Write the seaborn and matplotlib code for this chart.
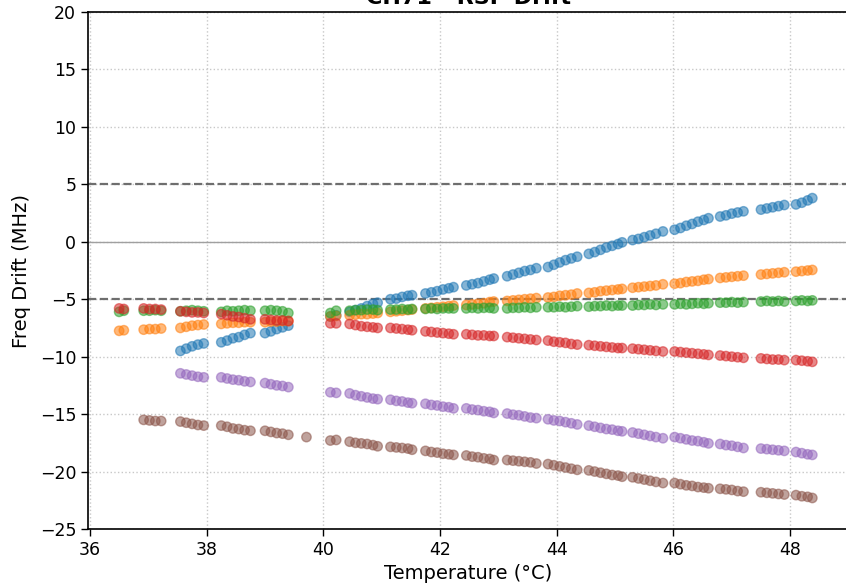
import numpy as np
import pandas as pd
import matplotlib
matplotlib.use("Agg")
import matplotlib.pyplot as plt
import seaborn as sns

nan = np.nan

temperature = [
    36.50, 36.58,
    36.92, 37.02, 37.12, 37.22,
    37.55, 37.65, 37.75, 37.85, 37.95,
    38.25, 38.35, 38.45, 38.55, 38.65, 38.75,
    39.00, 39.10, 39.20, 39.30, 39.40,
    39.71,
    40.12, 40.22,
    40.45, 40.55, 40.65, 40.75, 40.85, 40.93,
    41.15, 41.25, 41.35, 41.45, 41.52,
    41.75, 41.85, 41.95, 42.05, 42.15, 42.23,
    42.45, 42.55, 42.65, 42.75, 42.85, 42.92,
    43.15, 43.25, 43.35, 43.45, 43.55, 43.65,
    43.85, 43.95, 44.05, 44.15, 44.25, 44.35,
    44.55, 44.65, 44.75, 44.85, 44.95, 45.05, 45.12,
    45.30, 45.40, 45.50, 45.60, 45.70, 45.82,
    46.02, 46.12, 46.22, 46.32, 46.42, 46.52, 46.60,
    46.80, 46.90, 47.00, 47.10, 47.20,
    47.50, 47.60, 47.70, 47.80, 47.90,
    48.10, 48.20, 48.30, 48.38,
]

ch_a = [
    nan, nan,
    nan, nan, nan, nan,
    -9.5, -9.3, -9.1, -8.95, -8.85,
    -8.75, -8.6, -8.4, -8.3, -8.1, -7.95,
    -7.95, -7.8, -7.6, -7.45, -7.3,
    nan,
    -6.5, -6.4,
    -6.1, -5.95, -5.8, -5.6, -5.4, -5.3,
    -5.0, -4.95, -4.8, -4.7, -4.65,
    -4.5, -4.4, -4.3, -4.15, -4.05, -3.95,
    -3.8, -3.7, -3.6, -3.45, -3.3, -3.2,
    -3.0, -2.85, -2.7, -2.55, -2.45, -2.3,
    -2.2, -2.0, -1.8, -1.6, -1.45, -1.3,
    -1.05, -0.9, -0.7, -0.5, -0.35, -0.2, -0.05,
    0.15, 0.25, 0.4, 0.55, 0.7, 0.9,
    1.05, 1.2, 1.4, 1.55, 1.75, 1.9, 2.05,
    2.2, 2.3, 2.45, 2.55, 2.65,
    2.8, 2.9, 3.0, 3.1, 3.2,
    3.25, 3.4, 3.6, 3.8,
]

ch_b = [
    -7.75, -7.7,
    -7.65, -7.6, -7.6, -7.55,
    -7.5, -7.4, -7.3, -7.25, -7.2,
    -7.15, -7.1, -7.05, -7.05, -7.0, -7.0,
    -7.0, -6.95, -6.95, -6.9, -6.9,
    nan,
    -6.5, -6.45,
    -6.4, -6.35, -6.3, -6.3, -6.25, -6.2,
    -6.1, -6.05, -6.0, -5.95, -5.9,
    -5.8, -5.75, -5.7, -5.65, -5.6, -5.55,
    -5.5, -5.45, -5.4, -5.35, -5.25, -5.2,
    -5.15, -5.1, -5.05, -5.0, -4.95, -4.9,
    -4.85, -4.8, -4.7, -4.65, -4.6, -4.5,
    -4.45, -4.4, -4.3, -4.25, -4.2, -4.15, -4.1,
    -4.0, -3.95, -3.9, -3.85, -3.8, -3.7,
    -3.65, -3.6, -3.5, -3.45, -3.4, -3.3, -3.25,
    -3.15, -3.1, -3.05, -3.0, -2.95,
    -2.85, -2.8, -2.75, -2.7, -2.65,
    -2.6, -2.55, -2.5, -2.45,
]

ch_c = [
    -6.1, -6.0,
    -6.0, -6.0, -5.95, -6.0,
    -6.05, -6.0, -5.95, -6.0, -6.05,
    -6.1, -6.0, -6.05, -6.0, -5.95, -6.0,
    -6.0, -5.95, -6.0, -6.05, -6.2,
    nan,
    -6.2, -6.0,
    -6.0, -5.95, -5.95, -5.9, -5.9, -5.95,
    -5.9, -5.9, -5.85, -5.9, -5.85,
    -5.85, -5.8, -5.85, -5.8, -5.8, -5.8,
    -5.8, -5.75, -5.8, -5.75, -5.75, -5.8,
    -5.8, -5.75, -5.75, -5.7, -5.75, -5.7,
    -5.7, -5.7, -5.65, -5.7, -5.65, -5.6,
    -5.65, -5.6, -5.6, -5.55, -5.6, -5.55, -5.55,
    -5.55, -5.5, -5.5, -5.45, -5.5, -5.45,
    -5.45, -5.4, -5.45, -5.4, -5.35, -5.4, -5.35,
    -5.3, -5.3, -5.25, -5.3, -5.25,
    -5.2, -5.15, -5.2, -5.15, -5.2,
    -5.15, -5.1, -5.15, -5.1,
]

ch_d = [
    -5.8, -5.85,
    -5.8, -5.85, -5.85, -5.9,
    -6.05, -6.1, -6.15, -6.15, -6.2,
    -6.3, -6.4, -6.5, -6.55, -6.65, -6.75,
    -6.75, -6.8, -6.85, -6.85, -6.9,
    nan,
    -7.1, -7.1,
    -7.15, -7.25, -7.35, -7.4, -7.45, -7.5,
    -7.5, -7.55, -7.6, -7.65, -7.7,
    -7.8, -7.85, -7.9, -7.95, -8.0, -8.05,
    -8.05, -8.1, -8.15, -8.15, -8.2, -8.2,
    -8.3, -8.35, -8.4, -8.45, -8.5, -8.55,
    -8.6, -8.7, -8.75, -8.8, -8.9, -8.95,
    -9.0, -9.05, -9.1, -9.15, -9.2, -9.25, -9.25,
    -9.3, -9.35, -9.4, -9.45, -9.5, -9.55,
    -9.55, -9.6, -9.65, -9.7, -9.75, -9.8, -9.85,
    -9.9, -9.95, -10.0, -10.05, -10.1,
    -10.15, -10.2, -10.25, -10.25, -10.3,
    -10.3, -10.35, -10.4, -10.45,
]

ch_e = [
    nan, nan,
    nan, nan, nan, nan,
    -11.45, -11.55, -11.65, -11.75, -11.8,
    -11.8, -11.9, -12.0, -12.05, -12.15, -12.2,
    -12.3, -12.4, -12.5, -12.55, -12.65,
    nan,
    -13.1, -13.15,
    -13.2, -13.35, -13.45, -13.55, -13.65, -13.7,
    -13.75, -13.85, -13.9, -14.0, -14.05,
    -14.1, -14.2, -14.25, -14.35, -14.4, -14.5,
    -14.5, -14.6, -14.65, -14.75, -14.8, -14.9,
    -14.95, -15.05, -15.1, -15.2, -15.3, -15.35,
    -15.45, -15.55, -15.6, -15.7, -15.8, -15.9,
    -16.0, -16.1, -16.2, -16.3, -16.35, -16.45, -16.5,
    -16.6, -16.7, -16.8, -16.9, -17.0, -17.1,
    -17.0, -17.1, -17.2, -17.3, -17.35, -17.45, -17.55,
    -17.6, -17.7, -17.75, -17.85, -17.95,
    -18.0, -18.05, -18.1, -18.15, -18.2,
    -18.3, -18.4, -18.5, -18.55,
]

ch_f = [
    nan, nan,
    -15.5, -15.55, -15.6, -15.6,
    -15.65, -15.75, -15.85, -15.95, -16.0,
    -16.0, -16.1, -16.25, -16.3, -16.4, -16.45,
    -16.45, -16.55, -16.65, -16.7, -16.8,
    -17.0,
    -17.3, -17.25,
    -17.4, -17.5, -17.55, -17.6, -17.7, -17.8,
    -17.85, -17.9, -17.95, -18.0, -18.1,
    -18.2, -18.3, -18.35, -18.45, -18.5, -18.55,
    -18.6, -18.7, -18.75, -18.85, -18.9, -19.0,
    -19.0, -19.05, -19.1, -19.15, -19.2, -19.3,
    -19.35, -19.45, -19.55, -19.65, -19.75, -19.85,
    -19.9, -20.0, -20.1, -20.2, -20.3, -20.35, -20.45,
    -20.5, -20.6, -20.7, -20.8, -20.9, -21.0,
    -21.0, -21.1, -21.2, -21.25, -21.35, -21.4, -21.45,
    -21.5, -21.55, -21.6, -21.7, -21.75,
    -21.8, -21.85, -21.9, -21.95, -22.0,
    -22.05, -22.15, -22.2, -22.3,
]

series_names = ["A", "B", "C", "D", "E", "F"]
series_values = [ch_a, ch_b, ch_c, ch_d, ch_e, ch_f]

title = "CH71 - RSP Drift"
xlabel = "Temperature (°C)"
ylabel = "Freq Drift (MHz)"
x_ticks = [36, 38, 40, 42, 44, 46, 48]
y_ticks = [-25, -20, -15, -10, -5, 0, 5, 10, 15, 20]
limit_lines = [5, -5]

frames = []
for name, vals in zip(series_names, series_values):
    frames.append(pd.DataFrame({"temp": temperature, "drift": vals, "ch": name}))
df = pd.concat(frames, ignore_index=True).dropna()

sns.set_style("ticks")
plt.rcParams["font.family"] = ["DejaVu Sans"]
plt.rcParams["text.color"] = "black"
plt.rcParams["axes.labelcolor"] = "black"
plt.rcParams["xtick.color"] = "black"
plt.rcParams["ytick.color"] = "black"

fig = plt.figure(figsize=(8.46, 5.86), dpi=100)
ax = fig.add_axes([88 / 846, 57 / 586, (848.5 - 88) / 846, (529 - 12) / 586])

sns.scatterplot(data=df, x="temp", y="drift", hue="ch",
                palette=sns.color_palette("tab10", 6), hue_order=series_names,
                s=46, alpha=0.55, edgecolor="face", linewidth=1.0,
                legend=False, ax=ax, zorder=3)

for v in limit_lines:
    ax.axhline(v, color="#6e6e6e", linestyle="--", linewidth=1.6, zorder=2)
ax.axhline(0, color="#a0a0a0", linestyle="-", linewidth=1.0, zorder=2)

ax.set_xlim(35.966, 49.0)
ax.set_ylim(-25, 20)
ax.set_xticks(x_ticks)
ax.set_yticks(y_ticks)
ax.grid(True, linestyle=":", color="#c8c8c8", linewidth=1.0)
ax.set_axisbelow(True)
ax.tick_params(labelsize=12.5, length=5, width=1.0, color="black", labelcolor="black")
for sp in ax.spines.values():
    sp.set_color("black")
    sp.set_linewidth(1.2)
ax.set_xlabel(xlabel, fontsize=14)
ax.set_ylabel(ylabel, fontsize=14, labelpad=6)
ax.set_title(title, fontsize=16, fontweight="bold", pad=6)

fig.savefig("out.png", dpi=100)
